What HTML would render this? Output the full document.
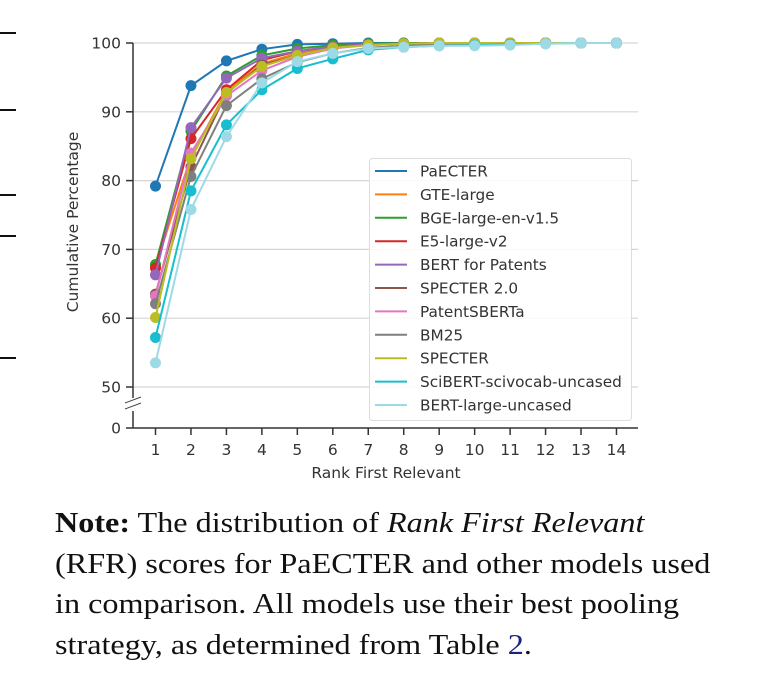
<!DOCTYPE html>
<html><head><meta charset="utf-8"><style>
body{margin:0;background:#fff;width:770px;height:694px;overflow:hidden;position:relative}
svg text{font-family:"DejaVu Sans",sans-serif;fill:#333}
.cap{position:absolute;left:55px;top:503px;font-family:"Liberation Serif",serif;font-size:29px;line-height:40.7px;color:#111;width:715px;white-space:nowrap;transform:scaleX(1.11);transform-origin:0 0}
</style></head><body>
<svg width="770" height="694" style="position:absolute;left:0;top:0">
<g id="frag" stroke="#111" stroke-width="2">
<line x1="0" y1="33" x2="16" y2="33"/><line x1="0" y1="110" x2="16" y2="110"/>
<line x1="0" y1="195" x2="16" y2="195"/><line x1="0" y1="236" x2="16" y2="236"/>
<line x1="0" y1="358" x2="16" y2="358"/>
</g>
<g id="grid"></g><g id="axes"></g><g id="series"></g><g id="legend"></g>
</svg>
<div class="cap"><b>Note:</b> The distribution of <i>Rank First Relevant</i><br>(RFR) scores for PaECTER and other models used<br>in comparison. All models use their best pooling<br>strategy, as determined from Table <span style="color:#1a237e">2</span>.</div>
<script>
const ranks=[1,2,3,4,5,6,7,8,9,10,11,12,13,14];
const names=["PaECTER","GTE-large","BGE-large-en-v1.5","E5-large-v2","BERT for Patents","SPECTER 2.0","PatentSBERTa","BM25","SPECTER","SciBERT-scivocab-uncased","BERT-large-uncased"];
const colors=["#1f77b4","#ff7f0e","#2ca02c","#d62728","#9467bd","#8c564b","#e377c2","#7f7f7f","#bcbd22","#17becf","#9edae5"];
const sPaECTER=[79.2,93.8,97.4,99.1,99.8,99.9,100,100,100,100,100,100,100,100];
const sGTE=[67.5,83.5,93.0,97.0,98.5,99.5,99.8,99.9,100,100,100,100,100,100];
const sBGE=[67.8,87.2,95.2,98.2,99.2,99.7,99.9,100,100,100,100,100,100,100];
const sE5=[67.3,86.1,93.2,97.5,98.8,99.5,99.8,99.9,100,100,100,100,100,100];
const sBFP=[66.3,87.7,94.9,97.8,98.8,99.5,99.8,99.9,100,100,100,100,100,100];
const sSP2=[63.5,82.0,92.7,96.8,98.2,99.3,99.7,99.9,100,100,100,100,100,100];
const sPSB=[63.2,84.0,92.3,96.0,98.0,99.2,99.7,99.9,100,100,100,100,100,100];
const sBM25=[62.1,80.6,90.9,94.8,97.2,98.5,99.3,99.6,99.8,99.9,100,100,100,100];
const sSPEC=[60.1,83.2,92.8,96.6,98.2,99.3,99.7,99.9,100,100,100,100,100,100];
const sSci=[57.2,78.5,88.1,93.2,96.3,97.7,99.0,99.4,99.6,99.7,99.8,99.9,100,100];
const sBL=[53.5,75.8,86.4,94.2,97.3,98.5,99.2,99.4,99.6,99.6,99.7,99.9,100,100];
const allSeries=[sPaECTER,sGTE,sBGE,sE5,sBFP,sSP2,sPSB,sBM25,sSPEC,sSci,sBL];
const yTicks=[50,60,70,80,90,100];
const NS="http://www.w3.org/2000/svg";
const X=r=>155.5+(r-1)*35.46;
const Y=v=>v>=50?43+(100-v)*6.88:428-(v/50)*20;
function mk(t,a,p){const e=document.createElementNS(NS,t);for(const k in a)e.setAttribute(k,a[k]);p.appendChild(e);return e;}
const grid=document.getElementById('grid'),axes=document.getElementById('axes'),ser=document.getElementById('series'),leg=document.getElementById('legend');
yTicks.forEach(v=>{
 const g=mk('line',{x1:133,x2:638,y1:Y(v),y2:Y(v),stroke:'#d5d5d5','stroke-width':1.2},grid);
 
 
 mk('line',{x1:126,x2:133,y1:Y(v),y2:Y(v),stroke:'#333','stroke-width':1.5},axes);
 const t=mk('text',{x:121,y:Y(v)+5.5,'text-anchor':'end','font-size':15.5},axes);t.textContent=v;
 
 
});
mk('line',{x1:126,x2:133,y1:428,y2:428,stroke:'#333','stroke-width':1.5},axes);
const t0=mk('text',{x:121,y:433.5,'text-anchor':'end','font-size':15.5},axes);t0.textContent='0';


mk('line',{x1:133,x2:133,y1:43,y2:398,stroke:'#333','stroke-width':1.5},axes);
mk('line',{x1:133,x2:133,y1:411,y2:428,stroke:'#333','stroke-width':1.5},axes);
mk('line',{x1:125,x2:141,y1:403,y2:397,stroke:'#444','stroke-width':1},axes);
mk('line',{x1:125,x2:141,y1:409,y2:403,stroke:'#444','stroke-width':1},axes);
mk('line',{x1:133,x2:638,y1:428,y2:428,stroke:'#333','stroke-width':1.5},axes);
ranks.forEach(r=>{
 mk('line',{x1:X(r),x2:X(r),y1:428,y2:435,stroke:'#333','stroke-width':1.5},axes);
 const t=mk('text',{x:X(r),y:455,'text-anchor':'middle','font-size':15.5},axes);t.textContent=r;
 
 
});
const xl=mk('text',{x:386,y:478,'text-anchor':'middle','font-size':15.5},axes);xl.textContent='Rank First Relevant';


const yl=mk('text',{x:0,y:0,'text-anchor':'middle','font-size':15.5,transform:'translate(78,222) rotate(-90)'},axes);yl.textContent='Cumulative Percentage';


allSeries.forEach((s,i)=>{
 const g=mk('g',{},ser);
 
 
 mk('polyline',{points:s.map((v,j)=>X(ranks[j])+','+Y(v)).join(' '),fill:'none',stroke:colors[i],'stroke-width':2},g);
 s.forEach((v,j)=>{const c=mk('circle',{cx:X(ranks[j]),cy:Y(v),r:5.5,fill:colors[i]},g);
  
  });
});
const lb=mk('rect',{x:369.5,y:158.5,width:262,height:262,rx:3,fill:'#fff','fill-opacity':0.85,stroke:'#ddd'},leg);


names.forEach((n,i)=>{
 const y=171+i*23.4;
 const g=mk('g',{},leg);
 
 
 mk('line',{x1:375,x2:407,y1:y,y2:y,stroke:colors[i],'stroke-width':2},g);
 const t=mk('text',{x:420,y:y+5.5,'font-size':15.3},g);t.textContent=n;
});
</script>
</body></html>
